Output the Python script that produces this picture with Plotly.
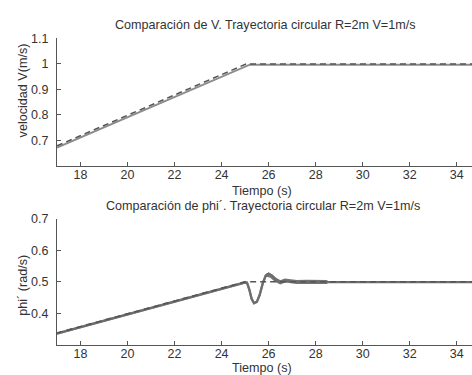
import plotly.graph_objects as go

# Velocidad lineal: referencia (discontinua) y medida (continua)
t_v_ref = [17.0, 25.05, 34.7]
v_ref = [0.679, 1.0, 1.0]
t_v_med = [17.0, 25.2, 34.7]
v_med = [0.672, 0.997, 0.997]

# Velocidad angular phi': referencia y medida
t_w_ref = [17.0, 25.0, 34.7]
w_ref = [0.337, 0.5, 0.5]
t_w_med = [17.0, 24.95, 25.08, 25.18, 25.28, 25.38, 25.5, 25.62, 25.75, 25.88, 26.0,
           26.12, 26.3, 26.5, 26.7, 26.9, 27.2, 27.6, 28.0, 28.5, 34.7]
w_med = [0.335, 0.497, 0.497, 0.475, 0.445, 0.432, 0.436, 0.458, 0.495, 0.52, 0.526,
         0.52, 0.507, 0.498, 0.504, 0.502, 0.499, 0.5, 0.499, 0.499, 0.499]
# tramo con oscilacion de alta frecuencia (se ve como banda gruesa)
t_w_osc = [25.9, 26.1, 26.3, 26.5, 26.7, 26.9, 27.2, 27.6, 28.0, 28.5]
w_osc = [0.522, 0.519, 0.506, 0.498, 0.504, 0.502, 0.499, 0.5, 0.499, 0.499]

x_ticks = [18, 20, 22, 24, 26, 28, 30, 32, 34]
v_ticks = [0.7, 0.8, 0.9, 1.0, 1.1]
v_tick_text = ["0.7", "0.8", "0.9", "1", "1.1"]
w_ticks = [0.4, 0.5, 0.6, 0.7]
w_tick_text = ["0.4", "0.5", "0.6", "0.7"]

titulo_v = "Comparación de V. Trayectoria circular R=2m V=1m/s"
titulo_w = "Comparación de phi´. Trayectoria circular R=2m V=1m/s"

SOLID = "#8c8c8c"
DASH = "#555555"
FONT = "Liberation Sans, Arial, sans-serif"
TXT = "#333333"
W, H = 472, 375

fig = go.Figure()
fig.add_trace(go.Scatter(x=t_v_med, y=v_med, mode="lines", xaxis="x", yaxis="y",
                         line=dict(color=SOLID, width=2)))
fig.add_trace(go.Scatter(x=t_v_ref, y=v_ref, mode="lines", xaxis="x", yaxis="y",
                         line=dict(color=DASH, width=1.5, dash="6px,4px")))
fig.add_trace(go.Scatter(x=t_w_med, y=w_med, mode="lines", xaxis="x2", yaxis="y2",
                         line=dict(color=SOLID, width=2)))
fig.add_trace(go.Scatter(x=t_w_osc, y=w_osc, mode="lines", xaxis="x2", yaxis="y2",
                         line=dict(color="#777777", width=4)))
fig.add_trace(go.Scatter(x=t_w_med, y=w_med, mode="lines", xaxis="x2", yaxis="y2",
                         line=dict(color="#6e6e6e", width=2.4)))
fig.add_trace(go.Scatter(x=t_w_ref, y=w_ref, mode="lines", xaxis="x2", yaxis="y2",
                         line=dict(color=DASH, width=1.5, dash="6px,4px")))

common_x = dict(range=[17, 34.65], tickvals=x_ticks, ticks="inside", ticklen=4,
                tickcolor="#555", showline=True, linecolor="#555", linewidth=1,
                showgrid=False, zeroline=False, mirror=False, ticklabelstandoff=-3,
                tickfont=dict(family=FONT, size=12.5, color=TXT))
common_y = dict(ticks="inside", ticklen=4, tickcolor="#555", showline=True,
                linecolor="#555", linewidth=1, showgrid=False, zeroline=False,
                ticklabelstandoff=5,
                tickfont=dict(family=FONT, size=12.5, color=TXT))

fig.update_layout(
    width=W, height=H,
    margin=dict(l=0, r=0, t=0, b=0),
    paper_bgcolor="white", plot_bgcolor="white",
    showlegend=False,
    xaxis=dict(domain=[57 / W, 1.0], anchor="y", **common_x),
    yaxis=dict(domain=[1 - 162 / H, 1 - 32 / H], anchor="x", range=[0.6, 1.1],
               tickvals=v_ticks, ticktext=v_tick_text, **common_y),
    xaxis2=dict(domain=[57 / W, 1.0], anchor="y2", **common_x),
    yaxis2=dict(domain=[1 - 344 / H, 1 - 216 / H], anchor="x2", range=[0.3, 0.7],
                tickvals=w_ticks, ticktext=w_tick_text, **common_y),
)

ann_font = dict(family=FONT, size=12.6, color=TXT)


def texto(txt, px, py, angle=0):
    # posiciona un texto en pixeles medidos desde la esquina superior izquierda
    fig.add_annotation(text=txt, x=px / W, y=1 - py / H, xref="paper", yref="paper",
                       showarrow=False, textangle=angle, font=ann_font,
                       xanchor="center", yanchor="middle")


texto(titulo_v, 265, 18)
texto("Tiempo (s)", 262, 187)
texto("velocidad V(m/s)", 23, 85, -90)
texto(titulo_w, 263, 203)
texto("Tiempo (s)", 262, 368)
texto("phi´ (rad/s)", 23, 284, -90)

fig.write_html("out.html")
